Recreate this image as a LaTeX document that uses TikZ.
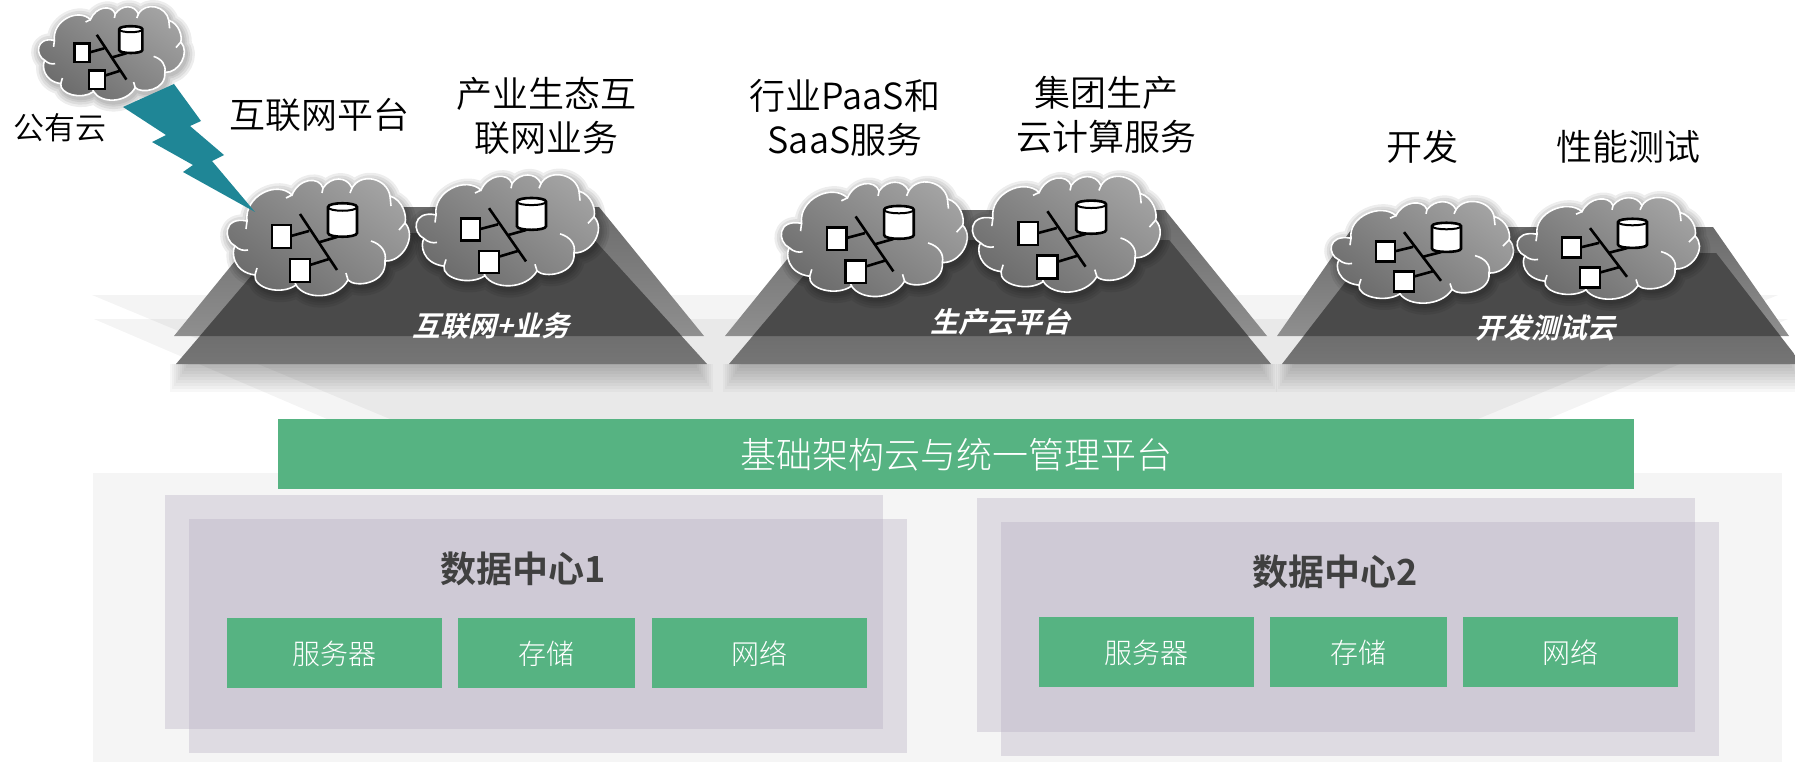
\documentclass[tikz,border=0pt]{standalone}
\usepackage{fontspec}
\setmainfont{Noto Sans CJK SC}[UprightFont=* Light,BoldFont=* Bold,ItalicFont=* Bold,ItalicFeatures={FakeSlant=0.25}]
\newfontfamily\labelfont{Noto Sans CJK SC DemiLight}
\definecolor{boxgreen}{HTML}{56B382}
\definecolor{boltteal}{HTML}{1F8696}
\definecolor{titlegray}{HTML}{404040}
\definecolor{panelgray}{HTML}{B5ABC0}
\newcommand{\cloudoutline}{(-72,-17) .. controls (-75,-42) and (-42,-58) .. (-27,-43)
  .. controls (-20,-60) and (0,-62) .. (4,-50)
  .. controls (12,-62) and (28,-62) .. (33,-50)
  .. controls (42,-66) and (68,-60) .. (71,-42)
  .. controls (84,-38) and (88,-22) .. (86,-15)
  .. controls (98,-2) and (84,24) .. (66,23)
  .. controls (68,46) and (36,50) .. (29,42)
  .. controls (18,62) and (-14,62) .. (-23,47)
  .. controls (-38,58) and (-66,50) .. (-64,37)
  .. controls (-86,34) and (-88,14) .. (-84,8)
  .. controls (-96,2) and (-96,-22) .. (-72,-17) -- cycle}
\tikzset{
  cloudnet/.pic={
    \foreach \w in {18,13,8,4}
      \draw[black,opacity=.07,line width=\w pt,line join=round,shift={(2,3)}] \cloudoutline;
    \path[draw=white,line width=1.6pt,bottom color=black!58,top color=black!36,shading angle=-35] \cloudoutline;
    \draw[white,line width=1.6pt] (52,3) .. controls (62,6) and (68,14) .. (66,23)
      (-84,8) .. controls (-80,12) and (-75,13) .. (-71,12)
      (-72,-17) -- (-73,-9) (-64,37) -- (-62,30) (-23,47) -- (-25,42) (29,42) -- (27,35)
      (4,-50) -- (3,-45) (-27,-43) -- (-33,-40) (71,-42) -- (72,-32) (86,-15) -- (80,-8) (33,-50) -- (31,-45);
    \draw[black,line width=2.6pt] (-19,-24) -- (18,32) (-28,-2) -- (-10,-7) (-9,27) -- (10,21) (1,4) -- (18,-1);
    \draw[black,fill=white,line width=2.6pt] (-47,-13) rectangle (-28,10);
    \draw[black,fill=white,line width=2.6pt] (-29,21) rectangle (-9,44);
    \draw[black,fill=white,line width=2.6pt] (9,-31) -- (9,-5) .. controls (9,0) and (38,0) .. (38,-5) -- (38,-31) .. controls (38,-36) and (9,-36) .. (9,-31) -- cycle;
    \draw[black,line width=2pt] (9,-31) .. controls (9,-26) and (38,-26) .. (38,-31);
  }
}
\begin{document}
\begin{tikzpicture}[x=1pt,y=-1pt]
  \tikzstyle{toplabel}=[font=\labelfont\fontsize{36}{44}\selectfont,text=black,align=center,inner sep=0pt]
  \tikzstyle{mesalabel}=[font=\fontsize{28}{30}\selectfont\itshape,text=white,inner sep=0pt]
  \tikzstyle{greenbox}=[fill=boxgreen,text=white,inner sep=0pt,font=\fontsize{28}{30}\selectfont,minimum height=70pt,text height=22pt,text depth=0pt]
  \tikzstyle{dctitle}=[font=\fontsize{36}{38}\selectfont\bfseries,text=titlegray,inner sep=0pt]
  \tikzstyle{dcpanel}=[fill=panelgray,fill opacity=.35]
  \useasboundingbox (0,0) rectangle (1795,762);

  % fan behind the mesas
  \fill[black,opacity=.045] (92,295) -- (1778,295) -- (1478,419) -- (390,419) -- cycle;
  \fill[black,opacity=.045] (94,319) -- (1788,319) -- (1548,419) -- (327,419) -- cycle;
  \fill[black!4] (93,473) rectangle (1782,762);

  % mesas
  \foreach \a/\b/\c/\d/\t/\e/\f/\g/\h/\u in {174/279/599/704/207/176/288/588/707/233,
      725/827/1165/1267/210/729/834/1169/1271/240,
      1277/1353/1713/1789/227/1282/1368/1716/1802/253} {
    \foreach \s in {0,1,...,9}
      \fill[black,opacity=.032] (\e+2*\s-6,364) rectangle (\h-2*\s+6,392-3*\s);
    \path[top color=black!58,bottom color=black!44] (\a,336) -- (\b,\t) -- (\c,\t) -- (\d,336) -- cycle;
    \path[top color=black!66,bottom color=black!54] (\e,364) -- (\f,\u) -- (\g,\u) -- (\h,364) -- cycle;
    \begin{scope}
      \clip (\a,336) -- (\b,\t) -- (\c,\t) -- (\d,336) -- cycle;
      \fill[black!71] (\e,364) -- (\f,\u) -- (\g,\u) -- (\h,364) -- cycle;
    \end{scope}
  }

  \pic[xscale=.8,yscale=.8] at (112,54) {cloudnet};
  \pic[xscale=1.0,yscale=1.0] at (319,238) {cloudnet};
  \pic[xscale=1.0,yscale=.95] at (508,231) {cloudnet};
  \pic[xscale=1.02,yscale=.98] at (875,240) {cloudnet};
  \pic[xscale=1.03,yscale=.99] at (1067,235) {cloudnet};
  \pic[xscale=1.0,yscale=.87] at (1423,253) {cloudnet};
  \pic[xscale=1.0,yscale=.87] at (1609,249) {cloudnet};

  % bolt from the public cloud
  \fill[boltteal] (123,107) -- (174,84) -- (201,121) -- (190,126) -- (224,155) -- (212,161) -- (255,212)
    -- (183,172) -- (193,165) -- (152,142) -- (166,135) -- cycle;

  \node [toplabel,font=\labelfont\fontsize{31}{36}\selectfont] (pubcloud) at (60,128) {公有云};
  \node [toplabel] (webplat) at (319,115) {互联网平台};
  \node [toplabel] (ecobiz) at (546,116) {产业生态互\\联网业务};
  \node [toplabel] (paasbiz) at (845,118) {行业PaaS和\\SaaS服务};
  \node [toplabel] (groupbiz) at (1106,115) {集团生产\\云计算服务};
  \node [toplabel] (devlabel) at (1422,147) {开发};
  \node [toplabel] (perflabel) at (1628,147) {性能测试};

  \node [mesalabel] (webmesa) at (491,326) {互联网+业务};
  \node [mesalabel] (prodmesa) at (1000,322) {生产云平台};
  \node [mesalabel] (devmesa) at (1545,328) {开发测试云};

  \node [greenbox,minimum width=1356pt,font=\fontsize{36}{40}\selectfont,text height=28.5pt] (infra) at (956,454) {基础架构云与统一管理平台};

  \begin{scope}
    \fill[dcpanel] (165,495) rectangle (883,729);
    \fill[dcpanel] (189,519) rectangle (907,753);
    \node [dctitle] (dcone) at (523,569) {数据中心1};
    \node [greenbox,minimum width=215pt] (srvone) at (334.5,653) {服务器};
    \node [greenbox,minimum width=177pt] (stoone) at (546.5,653) {存储};
    \node [greenbox,minimum width=215pt] (netone) at (759.5,653) {网络};
  \end{scope}
  \begin{scope}
    \fill[dcpanel] (977,498) rectangle (1695,732);
    \fill[dcpanel] (1001,522) rectangle (1719,756);
    \node [dctitle] (dctwo) at (1335,572) {数据中心2};
    \node [greenbox,minimum width=215pt] (srvtwo) at (1146.5,652) {服务器};
    \node [greenbox,minimum width=177pt] (stotwo) at (1358.5,652) {存储};
    \node [greenbox,minimum width=215pt] (nettwo) at (1570.5,652) {网络};
  \end{scope}
\end{tikzpicture}
\end{document}
